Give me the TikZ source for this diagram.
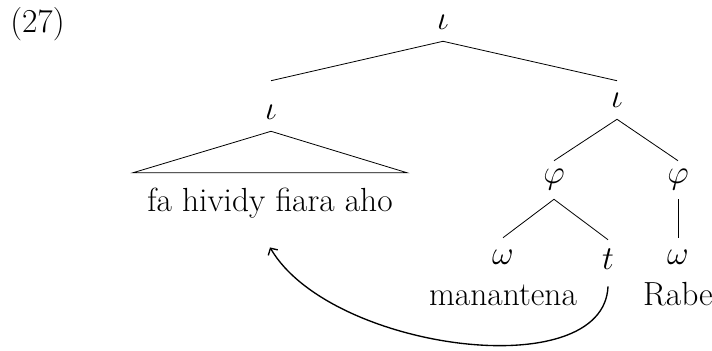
\documentclass[tikz,border=0pt]{standalone}
\usepackage{amsmath,amssymb}
\usepackage{tikz}
\usetikzlibrary{arrows.meta}
\tikzset{
  cat/.style={inner sep=0pt,minimum height=28.3pt},
  wrd/.style={anchor=base,inner sep=0pt},
  br/.style={line width=0.6pt},
  mv/.style={-{Straight Barb[length=3.8pt,width=8.2pt]},line width=1pt}
}
\begin{document}
\begin{tikzpicture}[x=0.744pt,y=-0.744pt,font=\Huge]
\useasboundingbox (0,0) rectangle (712,350);
\node[wrd,anchor=base west] (ex) at (10,32) {(27)};
\node[cat] (top) at (443,22) {$\iota$};
\node[cat] (li) at (271,112) {$\iota$};
\node[cat] (ri) at (617,100) {$\iota$};
\draw[br] (top.south) -- (li.north |- ri.north);
\draw[br] (top.south) -- (ri.north);
\node[wrd,inner xsep=10.4pt,inner ysep=12.7pt,text height=15.6pt,text depth=4.5pt] (fhfa) at (270,211) {fa hividy fiara aho};
\draw[br] (fhfa.north west) -- (li.south) -- (fhfa.north east) -- cycle;
\node[cat] (lp) at (554,180) {$\varphi$};
\node[cat] (rp) at (678,180) {$\varphi$};
\draw[br] (ri.south) -- (lp.north);
\draw[br] (ri.south) -- (rp.north);
\node[cat] (lw) at (503,257) {$\omega$};
\node[cat] (tr) at (608,259) {$t$};
\node[cat] (rw) at (678,257) {$\omega$};
\draw[br] (lp.south) -- (lw.north);
\draw[br] (lp.south) -- (tr.north);
\draw[br] (rp.south) -- (rw.north);
\node[wrd] (man) at (503,305) {manantena};
\node[wrd] (rabe) at (678,305) {Rabe};
\draw[mv] ([yshift=-6pt]tr.south) .. controls +(-4,100) and +(60,103) .. ([yshift=-9.7pt]fhfa.south);
\end{tikzpicture}
\end{document}
